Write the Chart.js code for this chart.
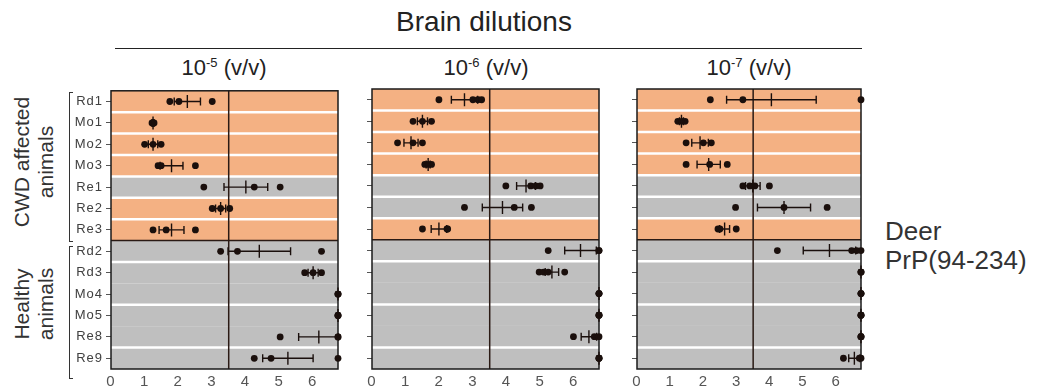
<!DOCTYPE html>
<html>
<head>
<meta charset="utf-8">
<script src="https://cdn.jsdelivr.net/npm/chart.js@4.4.1/dist/chart.umd.min.js"></script>
<style>
  body { margin: 0; background: #fff; font-family: 'Liberation Sans', Arial, sans-serif; color: #222; }
  #wrap { position: relative; width: 1038px; height: 392px; overflow: hidden; }
  canvas { position: absolute; top: 80px; }
  .txt { position: absolute; white-space: nowrap; line-height: 1; }
  .rot { position: absolute; white-space: nowrap; text-align: center; font-size: 21px; line-height: 24px;
         transform: translate(-50%, -50%) rotate(-90deg); color: #333; }
  .brk { position: absolute; width: 3px; border: 1px solid #333; border-right: none; }
</style>
</head>
<body>
<div id="wrap">
  <div class="txt" style="left:484px; top:8px; font-size:28px; transform:translateX(-50%);">Brain dilutions</div>
  <div style="position:absolute; left:115px; top:48px; width:747px; height:0; border-top:1.5px solid #222;"></div>
  <div class="txt" style="left:224px; top:56px; font-size:22px; transform:translateX(-50%);">10<sup style="font-size:13px;">-5</sup> (v/v)</div>
  <div class="txt" style="left:486px; top:56px; font-size:22px; transform:translateX(-50%);">10<sup style="font-size:13px;">-6</sup> (v/v)</div>
  <div class="txt" style="left:749px; top:56px; font-size:22px; transform:translateX(-50%);">10<sup style="font-size:13px;">-7</sup> (v/v)</div>
  <div class="txt" style="left:885px; top:218px; font-size:26px; color:#333;">Deer</div>
  <div class="txt" style="left:885px; top:247px; font-size:26px; color:#333;">PrP(94-234)</div>
  <div class="rot" style="left:34px; top:162px;">CWD affected<br>animals</div>
  <div class="rot" style="left:34px; top:304px;">Healthy<br>animals</div>
  <div class="brk" style="left:69px; top:92px; height:148px;"></div>
  <div class="brk" style="left:69px; top:246px; height:131px;"></div>
  <canvas id="p1" width="290" height="312" style="left:60px;"></canvas>
  <canvas id="p2" width="259" height="312" style="left:352px;"></canvas>
  <canvas id="p3" width="256" height="312" style="left:617px;"></canvas>
</div>
<script>
const rows = ['Rd1', 'Mo1', 'Mo2', 'Mo3', 'Re1', 'Re2', 'Re3', 'Rd2', 'Rd3', 'Mo4', 'Mo5', 'Re8', 'Re9'];
const xTicks = [0, 1, 2, 3, 4, 5, 6];
const xMax = 6.75;
const cutoff = 3.5;

// 10^-5
const dots1 = [
  [1.75, 2.02, 3.01], [1.22, 1.25, 1.28], [1.0, 1.25, 1.49], [1.40, 1.49, 2.51],
  [2.76, 4.26, 5.03], [3.01, 3.26, 3.53], [1.25, 1.64, 2.51],
  [3.26, 3.76, 6.26], [5.76, 6.01, 6.26], [6.75, 6.75, 6.75], [6.75, 6.75, 6.75],
  [5.03, 6.75, 6.75], [4.26, 4.76, 6.75]
];
const mean1 = [2.27, 1.25, 1.25, 1.80, 4.01, 3.26, 1.80, 4.41, 6.01, 6.75, 6.75, 6.18, 5.26];
const err1 = [0.39, 0.03, 0.14, 0.34, 0.65, 0.15, 0.37, 0.93, 0.15, 0, 0, 0.6, 0.75];
const pos1 = [1, 1, 1, 1, 0, 1, 1, 0, 0, 0, 0, 0, 0];

// 10^-6
const dots2 = [
  [1.99, 3.0, 3.15, 3.26], [1.22, 1.5, 1.77], [0.76, 1.22, 1.5], [1.57, 1.67, 1.77],
  [3.98, 4.72, 4.87, 5.0], [2.75, 4.23, 4.74], [1.5, 2.23, 2.25],
  [5.24, 6.75, 6.75], [4.97, 5.1, 5.24, 5.73], [6.75, 6.75, 6.75], [6.75, 6.75, 6.75],
  [5.99, 6.61, 6.75], [6.75, 6.75, 6.75]
];
const mean2 = [2.75, 1.5, 1.16, 1.67, 4.58, 3.88, 1.99, 6.2, 5.35, 6.75, 6.75, 6.45, 6.75];
const err2 = [0.39, 0.15, 0.21, 0.06, 0.28, 0.6, 0.23, 0.47, 0.2, 0, 0, 0.23, 0];
const pos2 = [1, 1, 1, 1, 0, 0, 1, 0, 0, 0, 0, 0, 0];

// 10^-7
const dots3 = [
  [2.21, 3.19, 6.75], [1.23, 1.35, 1.45], [1.48, 2.0, 2.24], [1.48, 2.19, 2.72],
  [3.19, 3.4, 3.55, 3.99], [2.97, 4.43, 5.73], [2.44, 2.5, 2.99],
  [4.23, 6.47, 6.62, 6.75], [6.75, 6.75, 6.75], [6.75, 6.75, 6.75], [6.75, 6.75, 6.75],
  [6.75, 6.75, 6.75], [6.22, 6.7, 6.75]
];
const mean3 = [4.05, 1.34, 1.9, 2.16, 3.49, 4.43, 2.64, 5.8, 6.75, 6.75, 6.75, 6.75, 6.55];
const err3 = [1.35, 0.06, 0.25, 0.35, 0.22, 0.8, 0.15, 0.79, 0, 0, 0, 0, 0.17];
const pos3 = [1, 1, 1, 1, 0, 0, 1, 0, 0, 0, 0, 0, 0];

// white gaps between rows (index of the row below the gap)
const whiteGaps = [1, 2, 3, 4, 5, 6, 8, 10, 12];
const groupSplit = 7;

const ORANGE = '#f4b183';
const GREY = '#bfbfbf';
const FONT = "'Liberation Sans', Arial, sans-serif";

const panelDecor = {
  id: 'panelDecor',
  beforeDraw(chart) {
    chart.ctx.letterSpacing = '1px';
  },
  afterDraw(chart) {
    chart.ctx.letterSpacing = '0px';
  },
  beforeDatasetsDraw(chart, args, o) {
    const { ctx, chartArea: a, scales: { x, y } } = chart;
    ctx.save();
    rows.forEach((r, i) => {
      const y0 = y.getPixelForValue(i - 0.5);
      const y1 = y.getPixelForValue(i + 0.5);
      ctx.fillStyle = o.pos[i] ? ORANGE : GREY;
      ctx.fillRect(a.left, y0, a.right - a.left, y1 - y0);
    });
    ctx.strokeStyle = '#fff';
    ctx.lineWidth = 2.5;
    whiteGaps.forEach(k => {
      const yy = y.getPixelForValue(k - 0.5);
      ctx.beginPath(); ctx.moveTo(a.left, yy); ctx.lineTo(a.right, yy); ctx.stroke();
    });
    ctx.strokeStyle = '#2a1a14';
    ctx.lineWidth = 1.5;
    const ys = y.getPixelForValue(groupSplit - 0.5);
    ctx.beginPath(); ctx.moveTo(a.left, ys); ctx.lineTo(a.right, ys); ctx.stroke();
    const xc = x.getPixelForValue(cutoff);
    ctx.beginPath(); ctx.moveTo(xc, a.top); ctx.lineTo(xc, a.bottom); ctx.stroke();
    ctx.strokeStyle = '#1a1a1a';
    ctx.strokeRect(a.left, a.top, a.right - a.left, a.bottom - a.top);
    ctx.restore();
  },
  afterDatasetsDraw(chart, args, o) {
    const { ctx, chartArea: a, scales: { x, y } } = chart;
    ctx.save();
    ctx.beginPath();
    ctx.rect(a.left, a.top, a.right - a.left + 1, a.bottom - a.top);
    ctx.clip();
    ctx.strokeStyle = '#1a0f0c';
    ctx.lineWidth = 1.4;
    o.mean.forEach((m, i) => {
      const yy = y.getPixelForValue(i);
      const xm = x.getPixelForValue(m);
      const xl = x.getPixelForValue(m - o.err[i]);
      const xr = x.getPixelForValue(m + o.err[i]);
      ctx.beginPath();
      ctx.moveTo(xl, yy); ctx.lineTo(xr, yy);
      ctx.moveTo(xl, yy - 4); ctx.lineTo(xl, yy + 4);
      ctx.moveTo(xr, yy - 4); ctx.lineTo(xr, yy + 4);
      ctx.moveTo(xm, yy - 6.5); ctx.lineTo(xm, yy + 6.5);
      ctx.stroke();
    });
    ctx.restore();
  }
};

function makePanel(id, dots, mean, err, pos, yWidth, showLabels) {
  const pts = [];
  dots.forEach((vals, i) => vals.forEach(v => pts.push({ x: v, y: rows[i] })));
  return new Chart(document.getElementById(id), {
    type: 'scatter',
    data: {
      datasets: [{
        data: pts,
        pointRadius: 3.4,
        pointHoverRadius: 3.4,
        backgroundColor: '#1a0f0c',
        borderWidth: 0,
        clip: false
      }]
    },
    options: {
      responsive: false,
      animation: false,
      devicePixelRatio: 1,
      layout: { padding: { top: 9, right: 12, bottom: 0, left: 0 } },
      plugins: {
        legend: { display: false },
        tooltip: { enabled: false },
        panelDecor: { mean, err, pos }
      },
      scales: {
        x: {
          type: 'linear',
          min: 0,
          max: xMax,
          afterBuildTicks: s => { s.ticks = xTicks.map(v => ({ value: v })); },
          ticks: { color: '#555', font: { size: 15, family: FONT }, padding: 4, maxRotation: 0 },
          grid: { display: false, drawTicks: false },
          border: { display: false },
          afterFit: s => { s.height = 23; }
        },
        y: {
          type: 'category',
          labels: rows,
          offset: true,
          ticks: { display: showLabels, color: '#404040', font: { size: 13, family: FONT }, padding: 3 },
          grid: { display: true, drawOnChartArea: false, offset: false, tickLength: 5, color: '#555' },
          border: { display: false },
          afterFit: s => { s.width = yWidth; }
        }
      }
    },
    plugins: [panelDecor]
  });
}

makePanel('p1', dots1, mean1, err1, pos1, 51, true);
makePanel('p2', dots2, mean2, err2, pos2, 20, false);
makePanel('p3', dots3, mean3, err3, pos3, 20, false);
</script>
</body>
</html>
